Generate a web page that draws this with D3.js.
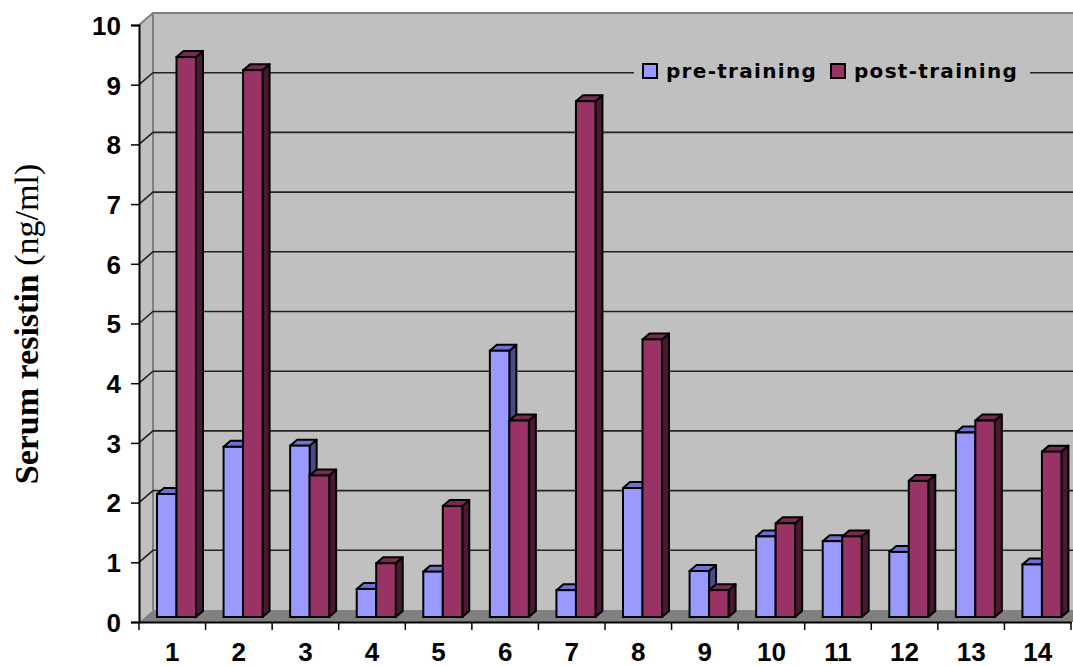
<!DOCTYPE html>
<html>
<head>
<meta charset="utf-8">
<title>Serum resistin pre/post training</title>
<script src="https://d3js.org/d3.v7.min.js"></script>
<style>
  body { margin:0; background:#fff; }
</style>
</head>
<body>
<script>
// data
var subjects = ["1","2","3","4","5","6","7","8","9","10","11","12","13","14"];
var preTraining  = [2.06, 2.85, 2.87, 0.47, 0.76, 4.46, 0.45, 2.16, 0.77, 1.35, 1.27, 1.09, 3.09, 0.88];
var postTraining = [9.38, 9.16, 2.37, 0.9, 1.86, 3.29, 8.64, 4.65, 0.45, 1.57, 1.35, 2.28, 3.29, 2.77];
var yTicks = [0,1,2,3,4,5,6,7,8,9,10];
var seriesNames = ["pre-training", "post-training"];

var W = 1073, H = 666;
var svg = d3.select("body").append("svg")
    .attr("width", W).attr("height", H);

var x = d3.scaleBand().domain(subjects).range([139, 1071]);
var y = d3.scaleLinear().domain([0, 10]).range([622, 25]);

// 3d offsets
var wallDX = 14, wallDY = -12;   // depth of back wall
var barDX = 7, barDY = -6;       // depth of each bar
var barShift = -5;               // bars sit a bit behind the front plane
var barW = 19.5;

var colors = {
  pre:  {front:"#9999ff", top:"#7070d4", side:"#4a4a85"},
  post: {front:"#993366", top:"#7a2952", side:"#4a1832"}
};

// walls
var xL = 139;
svg.append("polygon") // left wall
    .attr("points", [[xL,y(0)],[xL,y(10)],[xL+wallDX,y(10)+wallDY],[xL+wallDX,y(0)+wallDY]].join(" "))
    .attr("fill", "#c0c0c0");
svg.append("rect") // back wall
    .attr("x", xL+wallDX).attr("y", y(10)+wallDY)
    .attr("width", W - (xL+wallDX)).attr("height", y(0) - y(10))
    .attr("fill", "#c0c0c0");
svg.append("polygon") // floor
    .attr("points", [[xL,y(0)],[xL+wallDX,y(0)+wallDY],[W,y(0)+wallDY],[W,y(0)]].join(" "))
    .attr("fill", "#808080");

// wall edges
svg.append("path")
    .attr("d", "M"+xL+","+y(10)+"L"+(xL+wallDX)+","+(y(10)+wallDY)+"L"+W+","+(y(10)+wallDY)
        + "M"+(xL+wallDX)+","+(y(10)+wallDY)+"L"+(xL+wallDX)+","+(y(0)+wallDY))
    .attr("fill","none").attr("stroke","#808080").attr("stroke-width",2);

// gridlines on back wall and left wall
svg.append("g").selectAll("path").data(yTicks.filter(function(d){ return d > 0 && d < 10; }))
  .enter().append("path")
    .attr("d", function(d){
      return "M"+xL+","+y(d)+"L"+(xL+wallDX)+","+(y(d)+wallDY)+"L"+W+","+(y(d)+wallDY);
    })
    .attr("fill","none").attr("stroke","#222").attr("stroke-width",1.6);

// bars
function drawBar(g, bx, v, c) {
  var by0 = y(0) + barShift, by1 = y(v) + barShift;
  g.append("polygon") // side
    .attr("points", [[bx+barW,by1],[bx+barW+barDX,by1+barDY],[bx+barW+barDX,by0+barDY],[bx+barW,by0]].join(" "))
    .attr("fill", c.side).attr("stroke","#000").attr("stroke-width",2).attr("stroke-linejoin","round");
  g.append("polygon") // top
    .attr("points", [[bx,by1],[bx+barDX,by1+barDY],[bx+barW+barDX,by1+barDY],[bx+barW,by1]].join(" "))
    .attr("fill", c.top).attr("stroke","#000").attr("stroke-width",2).attr("stroke-linejoin","round");
  g.append("rect") // front
    .attr("x", bx).attr("y", by1).attr("width", barW).attr("height", by0 - by1)
    .attr("fill", c.front).attr("stroke","#000").attr("stroke-width",2);
}
var bars = svg.append("g");
subjects.forEach(function(s, i){
  var x0 = x(s) + 18;
  drawBar(bars, x0, preTraining[i], colors.pre);
  drawBar(bars, x0 + barW, postTraining[i], colors.post);
});

// axes
var yAxis = d3.axisLeft(y).tickValues(yTicks).tickSize(8).tickPadding(10).tickFormat(d3.format("d"));
var gy = svg.append("g").attr("transform","translate("+xL+",0)").call(yAxis);
var xAxis = d3.axisBottom(x).tickSize(0).tickPadding(20);
var gx = svg.append("g").attr("transform","translate(0,"+y(0)+")").call(xAxis);
[gy, gx].forEach(function(g){
  g.select(".domain").attr("stroke","#000").attr("stroke-width",2);
  g.selectAll(".tick line").attr("stroke","#000").attr("stroke-width",1.5);
  g.selectAll("text").attr("font-family","'Liberation Sans', Arial, sans-serif")
    .attr("font-size", 26).attr("font-weight","bold").attr("fill","#000");
});
gy.selectAll(".tick text").attr("dy","0.36em");
gx.selectAll(".tick text").attr("dy","0.71em").attr("y", 21);
// category boundary ticks
gx.selectAll("line.sep").data(subjects.concat(["end"])).enter().append("line")
    .attr("class","sep")
    .attr("x1", function(d,i){ return x.range()[0] + i * x.step(); })
    .attr("x2", function(d,i){ return x.range()[0] + i * x.step(); })
    .attr("y1", 0).attr("y2", 8)
    .attr("stroke","#000").attr("stroke-width",1.5);

// y axis title
var title = svg.append("text")
    .attr("transform","translate(38,324) rotate(-90)")
    .attr("text-anchor","middle")
    .attr("font-family","'Liberation Serif', 'Times New Roman', serif")
    .attr("font-size", 34).attr("fill","#000");
title.append("tspan").attr("font-weight","bold").text("Serum resistin ");
title.append("tspan").text("(ng/ml)");

// legend
var leg = svg.append("g");
leg.append("rect").attr("x", 634).attr("y", 58).attr("width", 396).attr("height", 28).attr("fill","#c0c0c0");
var legItems = [
  {name: seriesNames[0], c: colors.pre.front, sx: 643, tx: 666},
  {name: seriesNames[1], c: colors.post.front, sx: 831, tx: 854}
];
legItems.forEach(function(d){
  leg.append("rect").attr("x", d.sx).attr("y", 64).attr("width", 14).attr("height", 14)
    .attr("fill", d.c).attr("stroke","#000").attr("stroke-width",2);
  leg.append("text").attr("x", d.tx).attr("y", 78)
    .attr("font-family","'DejaVu Sans', Verdana, sans-serif")
    .attr("font-size", 20).attr("font-weight","bold").attr("letter-spacing", 1.3)
    .attr("fill","#000").text(d.name);
});
</script>
</body>
</html>
